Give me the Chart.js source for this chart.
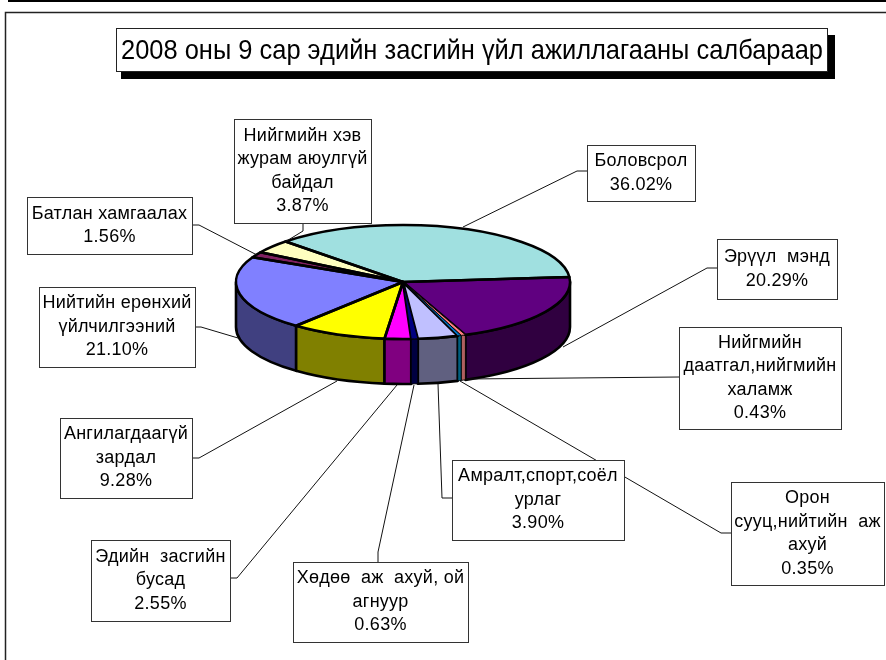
<!DOCTYPE html>
<html><head><meta charset="utf-8">
<style>html,body{margin:0;padding:0;background:#fff}canvas{display:block}</style>
<script src="https://cdn.jsdelivr.net/npm/chart.js@4"></script>
</head><body><canvas id="c" width="886" height="660"></canvas>
<script>
const titleText = '2008 оны 9 сар эдийн засгийн үйл ажиллагааны салбараар';
const categories = ['Боловсрол','Эрүүл  мэнд','Нийгмийн\nдаатгал,нийгмийн\nхаламж','Орон\nсууц,нийтийн  аж\nахуй','Амралт,спорт,соёл\nурлаг','Хөдөө  аж  ахуй, ой\nагнуур','Эдийн  засгийн\nбусад','Ангилагдаагүй\nзардал','Нийтийн ерөнхий\nүйлчилгээний','Батлан хамгаалах','Нийгмийн хэв\nжурам аюулгүй\nбайдал'];
const values = [36.02,20.29,0.43,0.35,3.90,0.63,2.55,9.28,21.10,1.56,3.87];
const topColors = ['#a0e0e0','#600080','#ff8080','#0070c0','#c0c0ff','#000080','#ff00ff','#ffff00','#8080ff','#802060','#ffffc0'];
const sideColors = ['#507070','#300040','#b06060','#006080','#606080','#000040','#800080','#808000','#404080','#401030','#808060'];
// label box [x0,y0,x1,y1]
const labelBoxes = [[587,145,695,201],[717,239,837,299],[679,327,841,429],[731,482,884,585],[452,460,624,540],[293,562,468,642],[91,540,230,621],[60,418,192,498],[39,287,195,367],[27,197,192,254],[234,119,371,223]];
// leader polylines
const leaders = [[[587,171],[577,171],[463,227]],[[717,268],[707,268],[563,347]],[[679,377],[466,379]],[[731,533],[721,533],[460,381]],[[452,498],[442,498],[438,384]],[[378,562],[378,552],[414,385]],[[230,578],[237,578],[397,385]],[[192,458],[199,458],[337,381]],[[195,327],[201,327],[238,338]],[[192,225],[199,225],[257,255]],[[303,223],[303,231],[285,242]]];
const tilt = 57/167, depth = 45, lineH = 23.5;
const edge = v => v < 1 ? 0.9 : 2.6;
const byValueDesc = values.map((v,i)=>i).sort((a,b)=>values[b]-values[a]);

const pie3d = {
  id:'pie3d',
  arcs(chart){return chart.getDatasetMeta(0).data.map(a=>a.getProps(['x','y','startAngle','endAngle','outerRadius'],true));},
  beforeDatasetsDraw(chart){
    const ctx=chart.ctx,arcs=this.arcs(chart);
    ctx.save();ctx.lineJoin='round';
    byValueDesc.forEach(i=>{
      const a=arcs[i];
      let s=a.startAngle,e=a.endAngle;const T=Math.PI*2;
      while(e<=0){s+=T;e+=T;}
      s=Math.max(s,0);e=Math.min(e,Math.PI);
      if(e<=s)return;
      const rx=a.outerRadius,ry=rx*tilt;
      ctx.beginPath();
      ctx.ellipse(a.x,a.y,rx,ry,0,s,e);
      ctx.ellipse(a.x,a.y+depth,rx,ry,0,e,s,true);
      ctx.closePath();
      ctx.fillStyle=sideColors[i];ctx.fill();
      ctx.strokeStyle='#000';ctx.lineWidth=edge(values[i]);ctx.stroke();
    });
    ctx.restore();
  },
  beforeDatasetDraw(chart){
    const ctx=chart.ctx,a=this.arcs(chart)[0];
    ctx.save();ctx.translate(a.x,a.y);ctx.scale(1,tilt);ctx.translate(-a.x,-a.y);
  },
  afterDatasetDraw(chart){
    const ctx=chart.ctx,arcs=this.arcs(chart);ctx.restore();
    ctx.save();ctx.lineJoin='round';ctx.strokeStyle='#000';
    byValueDesc.forEach(i=>{
      const a=arcs[i],rx=a.outerRadius,ry=rx*tilt;
      ctx.beginPath();ctx.moveTo(a.x,a.y);
      ctx.ellipse(a.x,a.y,rx,ry,0,a.startAngle,a.endAngle);
      ctx.closePath();
      if(values[i]<1){ctx.fillStyle=topColors[i];ctx.fill();}
      ctx.lineWidth=edge(values[i]);ctx.stroke();
    });
    ctx.restore();
  },
  afterDraw(chart){
    const ctx=chart.ctx;
    ctx.save();
    // page frame
    ctx.fillStyle='#000';ctx.fillRect(8,0,878,2);ctx.fillRect(8,0,1,2);ctx.fillRect(44,0,1,2);
    ctx.strokeStyle='#222';ctx.lineWidth=1.5;
    ctx.beginPath();ctx.moveTo(5.5,660);ctx.lineTo(5.5,12.5);ctx.lineTo(886,12.5);ctx.stroke();
    ctx.lineWidth=1;
    // title
    ctx.fillStyle='#000';ctx.fillRect(121,35,714,44);
    ctx.fillStyle='#fff';ctx.fillRect(116,28,712,44);
    ctx.strokeStyle='#222';ctx.strokeRect(116.5,28.5,711,43);
    ctx.fillStyle='#000';ctx.textAlign='center';ctx.textBaseline='middle';
    ctx.font='28px "Liberation Sans"';
    ctx.fillText(titleText,472,51,702);
    // leaders
    ctx.strokeStyle='#111';ctx.lineWidth=1;
    leaders.forEach(l=>{ctx.beginPath();l.forEach((p,i)=>i?ctx.lineTo(p[0],p[1]):ctx.moveTo(p[0],p[1]));ctx.stroke();});
    // boxes
    ctx.font='18px "Liberation Sans"';
    ctx.letterSpacing='0.25px';
    labelBoxes.forEach((b,i)=>{
      ctx.fillStyle='#fff';ctx.fillRect(b[0],b[1],b[2]-b[0],b[3]-b[1]);
      ctx.strokeStyle='#333';ctx.strokeRect(b[0]+.5,b[1]+.5,b[2]-b[0],b[3]-b[1]);
      const lines=categories[i].split('\n').concat(values[i].toFixed(2)+'%');
      const cx=(b[0]+b[2])/2,cy=(b[1]+b[3])/2;
      ctx.fillStyle='#000';
      lines.forEach((t,j)=>ctx.fillText(t,cx,cy+(j-(lines.length-1)/2)*lineH,b[2]-b[0]-5));
    });
    ctx.restore();
  }
};
new Chart(document.getElementById('c'),{
  type:'pie',
  data:{labels:categories.map(s=>s.replace(/\n/g,' ')),datasets:[{data:values,backgroundColor:topColors,borderWidth:0}]},
  options:{responsive:false,animation:false,rotation:-44.7,radius:167,
    layout:{padding:{right:80,bottom:96}},
    plugins:{legend:{display:false},tooltip:{enabled:false},title:{display:false}}},
  plugins:[pie3d]
});
</script></body></html>
